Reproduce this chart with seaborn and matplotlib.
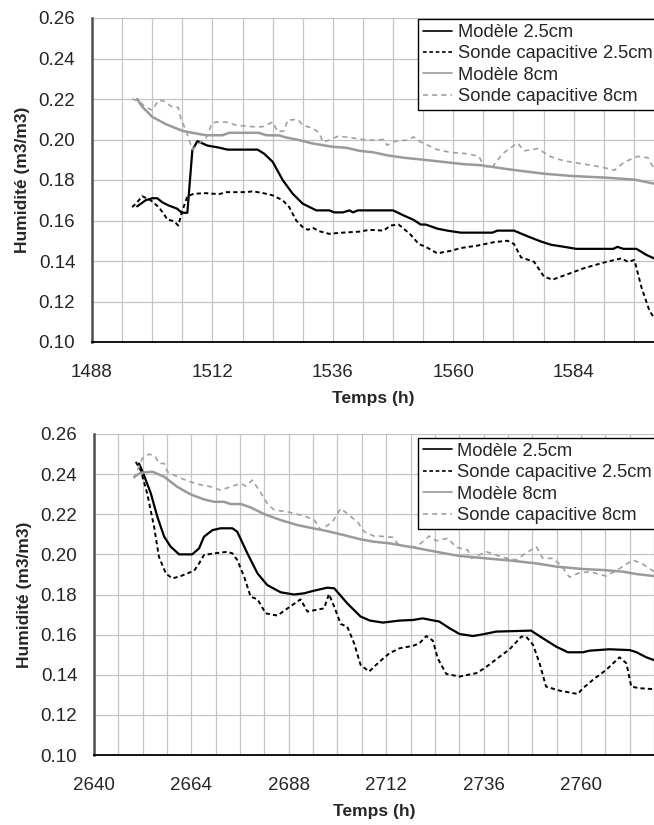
import matplotlib
matplotlib.use('Agg')
import matplotlib.pyplot as plt
from matplotlib.ticker import MultipleLocator, FormatStrFormatter
import seaborn as sns

# --- data (hours, m3/m3) ---
labels = ['Modèle 2.5cm', 'Sonde capacitive 2.5cm', 'Modèle 8cm', 'Sonde capacitive 8cm']

# top panel
top_m25_t = [1497, 1498.7, 1500, 1501, 1502, 1503.3, 1505, 1505.9, 1507, 1508, 1509, 1511, 1513.3, 1515, 1521,
             1522.3, 1524, 1526, 1528, 1530, 1532.7, 1535.3, 1536.3, 1538, 1539.3, 1540, 1541, 1548, 1550.1,
             1552.1, 1553.5, 1554.5, 1556.8, 1558.8, 1561.5, 1567.8, 1568.8, 1572.1, 1574.8, 1577.5, 1579.5,
             1582.1, 1584.5, 1591.9, 1592.7, 1593.9, 1596.5, 1598.5, 1600]
top_m25_v = [0.167, 0.170, 0.171, 0.171, 0.169, 0.1674, 0.1658, 0.1638, 0.1638, 0.1947, 0.1992, 0.197, 0.196,
             0.195, 0.195, 0.193, 0.189, 0.180, 0.1732, 0.1683, 0.165, 0.165, 0.164, 0.164, 0.165, 0.164, 0.165,
             0.165, 0.1625, 0.1603, 0.158, 0.158, 0.156, 0.155, 0.154, 0.154, 0.155, 0.155, 0.1522, 0.1496,
             0.148, 0.147, 0.146, 0.146, 0.147, 0.146, 0.146, 0.143, 0.1413]
top_s25_t = [1496, 1497, 1498, 1499.7, 1501.3, 1502.3, 1503, 1504.3, 1505.2, 1505.9, 1507, 1508.3, 1510.7,
             1513.3, 1514.7, 1518.7, 1520, 1522, 1524, 1526, 1527.3, 1528.7, 1530, 1531, 1532, 1533.3, 1535.3,
             1537.3, 1541.3, 1543.3, 1546.1, 1547.5, 1549.1, 1550.1, 1551.5, 1553.1, 1554.5, 1556.8, 1559.5,
             1561.5, 1564.8, 1568.1, 1570.8, 1572.1, 1573.5, 1576.1, 1578.1, 1579.8, 1582.8, 1586.1, 1590.1,
             1593.5, 1594.8, 1596.1, 1597.5, 1599.1, 1600]
top_s25_v = [0.1666, 0.169, 0.172, 0.170, 0.1666, 0.1633, 0.1605, 0.1597, 0.1575, 0.164, 0.172, 0.1732, 0.1735,
             0.173, 0.174, 0.174, 0.1744, 0.1736, 0.1724, 0.170, 0.1666, 0.160, 0.1567, 0.1554, 0.1564, 0.1547,
             0.1534, 0.1539, 0.1545, 0.1554, 0.155, 0.1575, 0.158, 0.156, 0.153, 0.1484, 0.147, 0.1438, 0.145,
             0.1464, 0.1476, 0.1493, 0.150, 0.1484, 0.1418, 0.1396, 0.1322, 0.1308, 0.1335, 0.1365, 0.1393,
             0.1413, 0.1396, 0.1405, 0.127, 0.1154, 0.112]
top_m8_t = [1497, 1498, 1500, 1502.7, 1506, 1508, 1510.7, 1514, 1515.3, 1521.3, 1522.7, 1525.3, 1526.7, 1529.3,
            1532, 1536, 1538.7, 1541.3, 1544, 1546.8, 1550.1, 1554.1, 1558.1, 1562.1, 1565.5, 1570.1, 1574.1,
            1578.1, 1583.5, 1590.1, 1596.1, 1600]
top_m8_v = [0.22, 0.2162, 0.2112, 0.2076, 0.2043, 0.2033, 0.2021, 0.2021, 0.2033, 0.2033, 0.2021, 0.202, 0.201,
            0.1997, 0.198, 0.1964, 0.1959, 0.1944, 0.1937, 0.1922, 0.191, 0.190, 0.1889, 0.1878, 0.1873, 0.1856,
            0.1843, 0.1831, 0.182, 0.1812, 0.1802, 0.1782]
top_s8_t = [1496, 1497.3, 1498.7, 1500, 1501.3, 1502.3, 1504, 1505.2, 1505.7, 1506.7, 1508, 1509.3, 1510.7,
            1511.9, 1512.7, 1514.7, 1516.7, 1520, 1522, 1524, 1525, 1526.3, 1527, 1529, 1530, 1532, 1533.3, 1534,
            1535.3, 1537, 1539.3, 1542, 1544, 1546.1, 1546.8, 1548.5, 1550.8, 1552.1, 1553.5, 1556.8, 1559.5,
            1562.8, 1565.1, 1566.1, 1567.8, 1569.8, 1572.8, 1574.1, 1576.8, 1579.5, 1582.1, 1585.5, 1589.5,
            1592.1, 1594.1, 1596.8, 1598.8, 1599.8]
top_s8_v = [0.22, 0.219, 0.216, 0.2145, 0.2195, 0.219, 0.216, 0.2159, 0.2104, 0.2046, 0.195, 0.198, 0.2005,
            0.208, 0.2086, 0.2086, 0.2071, 0.2063, 0.2063, 0.2086, 0.2038, 0.2043, 0.2096, 0.2099, 0.2071, 0.2055,
            0.2033, 0.1988, 0.1997, 0.2016, 0.201, 0.2, 0.1997, 0.200, 0.1972, 0.1992, 0.1997, 0.2013, 0.1988,
            0.195, 0.1936, 0.193, 0.1917, 0.1868, 0.1864, 0.193, 0.1983, 0.1944, 0.1955, 0.1914, 0.1894, 0.1881,
            0.1864, 0.1848, 0.1889, 0.1917, 0.191, 0.1864]

# bottom panel
bot_m25_t = [2651.1, 2652.3, 2654, 2655.6, 2657.3, 2658.9, 2661, 2664.2, 2665.9, 2667.1, 2669.2, 2671.2, 2674.1,
             2675.3, 2677.8, 2680.3, 2682.7, 2686, 2689.3, 2691.8, 2694.2, 2697.5, 2699.2, 2702.4, 2705.7, 2708,
             2711.2, 2715.3, 2718.6, 2721, 2725.1, 2727.6, 2730.1, 2733.4, 2736.2, 2739.1, 2747.7, 2750.6, 2753.9,
             2756.8, 2760.5, 2762.1, 2767, 2772, 2773.6, 2776.1, 2778]
bot_m25_v = [0.2453, 0.2395, 0.2304, 0.2188, 0.2088, 0.2038, 0.2, 0.2, 0.203, 0.2088, 0.2121, 0.213, 0.213,
             0.2113, 0.2005, 0.1905, 0.1847, 0.1811, 0.18, 0.1806, 0.1819, 0.1834, 0.1831, 0.1756, 0.169, 0.167,
             0.166, 0.167, 0.1673, 0.1681, 0.1665, 0.1632, 0.1603, 0.1593, 0.1603, 0.1615, 0.162, 0.1582, 0.154,
             0.1512, 0.1512, 0.152, 0.1527, 0.1523, 0.1513, 0.1487, 0.1473]
bot_s25_t = [2650.3, 2651.5, 2653.1, 2654.8, 2656, 2657.7, 2659.3, 2661.4, 2664.7, 2665.9, 2667.1, 2669.6,
             2672.9, 2674.1, 2675.3, 2677, 2678.6, 2680.3, 2682.3, 2685.2, 2687.7, 2690.9, 2692.6, 2696.7, 2697.9,
             2699.2, 2700.8, 2702.4, 2704.1, 2705.7, 2707.8, 2710.4, 2712.8, 2715.3, 2718.6, 2720.2, 2721.9,
             2723.5, 2724.7, 2726.8, 2730.1, 2734.2, 2736.2, 2739.1, 2742.4, 2745.3, 2746.5, 2748.2, 2749.8,
             2751.4, 2754.7, 2759.2, 2760.5, 2762.9, 2766.2, 2769.5, 2771.2, 2772.4, 2774.4, 2778]
bot_s25_v = [0.2461, 0.242, 0.2304, 0.2138, 0.1988, 0.1905, 0.188, 0.1892, 0.1919, 0.1955, 0.1997, 0.2005,
             0.2013, 0.2005, 0.1972, 0.1889, 0.1789, 0.1776, 0.1706, 0.1695, 0.1731, 0.1776, 0.1715, 0.1731,
             0.1802, 0.1739, 0.1653, 0.164, 0.1557, 0.1449, 0.1416, 0.1466, 0.1507, 0.1532, 0.1544, 0.1557,
             0.1593, 0.157, 0.1482, 0.1404, 0.1391, 0.1408, 0.1432, 0.1477, 0.1527, 0.159, 0.159, 0.1549, 0.1457,
             0.1341, 0.1321, 0.1304, 0.1333, 0.1374, 0.1424, 0.1487, 0.1457, 0.1341, 0.1333, 0.1328]
bot_m8_t = [2649.9, 2651.5, 2654.4, 2657.3, 2660.5, 2663.8, 2667.1, 2669.6, 2672, 2673.7, 2676.2, 2678.6,
            2681.9, 2686, 2690.1, 2694.2, 2697.5, 2701.6, 2705.7, 2709, 2712.8, 2718.6, 2724.3, 2730.1, 2736.7,
            2743.2, 2749, 2753.9, 2760.5, 2765.4, 2770.3, 2773.6, 2778]
bot_m8_v = [0.2387, 0.2407, 0.2412, 0.2387, 0.2337, 0.2299, 0.2274, 0.2262, 0.2262, 0.2251, 0.2251, 0.2234,
            0.2201, 0.2171, 0.2146, 0.2129, 0.2116, 0.2096, 0.2075, 0.2063, 0.2055, 0.2035, 0.2013, 0.1992,
            0.198, 0.1968, 0.1955, 0.1939, 0.1927, 0.1922, 0.1914, 0.1902, 0.1892]
bot_s8_t = [2649.9, 2650.7, 2651.9, 2653.6, 2655.2, 2656, 2657.3, 2658.1, 2660.5, 2663, 2665.5, 2668.8, 2671.2,
            2673.7, 2676.2, 2677.4, 2679, 2680.7, 2682.7, 2684.4, 2687.7, 2690.9, 2694.2, 2695.9, 2698.8, 2700.8,
            2703.3, 2704.9, 2706.6, 2709, 2710.4, 2713.6, 2715.3, 2719.4, 2721, 2722.6, 2724.3, 2727.2, 2729.3,
            2732.1, 2733, 2736.7, 2740.8, 2744.1, 2746.1, 2749, 2750.6, 2753.1, 2755.2, 2757.2, 2759.2, 2762.1,
            2766.2, 2768.7, 2772.8, 2775.2, 2778]
bot_s8_v = [0.2378, 0.242, 0.2478, 0.25, 0.2486, 0.2453, 0.2453, 0.2412, 0.2387, 0.2367, 0.235, 0.2337, 0.232,
            0.2337, 0.2354, 0.234, 0.237, 0.232, 0.2254, 0.2221, 0.2212, 0.2196, 0.2174, 0.2121, 0.2163, 0.2229,
            0.2188, 0.2163, 0.2113, 0.2091, 0.2091, 0.2085, 0.2041, 0.2038, 0.2063, 0.2091, 0.2068, 0.208, 0.2035,
            0.2022, 0.198, 0.2013, 0.1985, 0.1972, 0.2002, 0.2038, 0.198, 0.198, 0.1942, 0.1886, 0.1905, 0.1914,
            0.1892, 0.1919, 0.1972, 0.1952, 0.1914]

sns.set_style('white')
plt.rcParams['font.family'] = ['Liberation Sans', 'DejaVu Sans']

styles = [dict(color='black', lw=1.6, linestyle='-'),
          dict(color='black', lw=1.4, linestyle=(0, (2.2, 1.6))),
          dict(color='#9a9a9a', lw=1.8, linestyle='-'),
          dict(color='#a0a0a0', lw=1.2, linestyle=(0, (3, 2.5)))]


def draw_panel(ax, series, x0, x1, leg_x, leg_y):
    for (t, v), lab, st in zip(series, labels, styles):
        sns.lineplot(x=t, y=v, ax=ax, label=lab, sort=False, estimator=None, **st)
    ax.set_xlim(x0, x1)
    ax.set_ylim(0.10, 0.26)
    ax.xaxis.set_major_locator(MultipleLocator(24))
    ax.xaxis.set_minor_locator(MultipleLocator(6))
    ax.yaxis.set_major_locator(MultipleLocator(0.02))
    ax.yaxis.set_major_formatter(FormatStrFormatter('%.2f'))
    ax.grid(True, which='both', axis='x', color='#c4c4c4', lw=0.9)
    ax.grid(True, which='major', axis='y', color='#c4c4c4', lw=0.9)
    ax.tick_params(axis='x', which='major', direction='out', length=5, width=1, pad=11, labelsize=13.5)
    ax.tick_params(axis='y', which='major', direction='out', length=6, width=1, pad=6, labelsize=13.5)
    ax.tick_params(axis='x', which='minor', length=0)
    for s in ['top', 'right']:
        ax.spines[s].set_visible(False)
    ax.spines['left'].set_color('#505050')
    ax.spines['left'].set_linewidth(1.8)
    ax.spines['bottom'].set_color('black')
    ax.spines['bottom'].set_linewidth(1.3)
    ax.set_xlabel('Temps (h)', fontsize=12.5, fontweight='bold', labelpad=7)
    ax.set_ylabel('Humidité (m3/m3)', fontsize=12.5, fontweight='bold', labelpad=6)
    leg = ax.legend(loc='upper left', bbox_to_anchor=(leg_x, leg_y), borderaxespad=0, fontsize=13.2,
                    frameon=True, fancybox=False, edgecolor='black', framealpha=1,
                    handlelength=1.6, handletextpad=0.3, labelspacing=0.24, borderpad=0.27)
    leg.get_frame().set_linewidth(1.0)
    for line in leg.get_lines():
        line.set_linewidth(1.2)


fig = plt.figure(figsize=(6.54, 8.25), dpi=100)
ax1 = fig.add_axes([92 / 654, 1 - 342 / 825, 562 / 654, 324 / 825])
ax2 = fig.add_axes([94 / 654, 1 - 755 / 825, 560 / 654, 321 / 825])

draw_panel(ax1, [(top_m25_t, top_m25_v), (top_s25_t, top_s25_v), (top_m8_t, top_m8_v), (top_s8_t, top_s8_v)],
           1488, 1600, 0.580, 0.997)
draw_panel(ax2, [(bot_m25_t, bot_m25_v), (bot_s25_t, bot_s25_v), (bot_m8_t, bot_m8_v), (bot_s8_t, bot_s8_v)],
           2640, 2778, 0.578, 0.988)

fig.savefig('out.png', dpi=100)
